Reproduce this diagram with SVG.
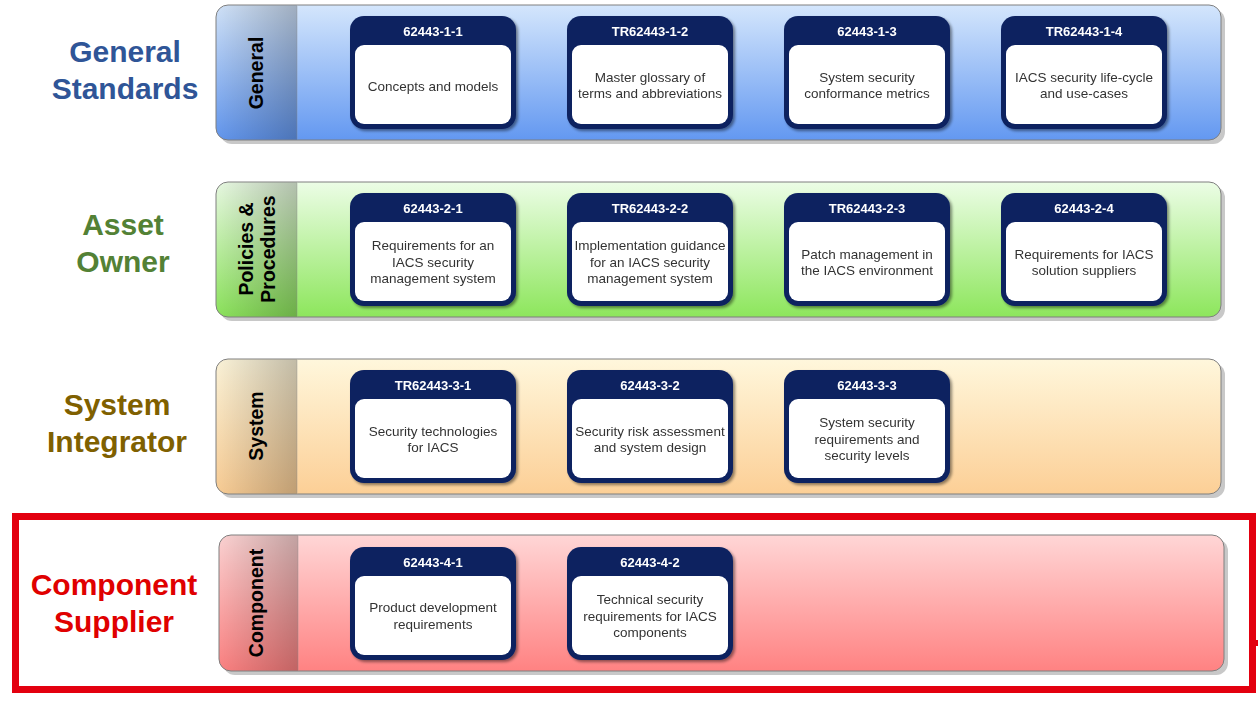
<svg xmlns="http://www.w3.org/2000/svg" width="1258" height="702" viewBox="0 0 1258 702">
<defs>
<linearGradient id="gBlue" x1="0" y1="0" x2="0" y2="1"><stop offset="0" stop-color="#d4e6fc"/><stop offset="1" stop-color="#6398f1"/></linearGradient>
<linearGradient id="gGreen" x1="0" y1="0" x2="0" y2="1"><stop offset="0" stop-color="#ecfde6"/><stop offset="1" stop-color="#8de65c"/></linearGradient>
<linearGradient id="gYellow" x1="0" y1="0" x2="0" y2="1"><stop offset="0" stop-color="#fff7dc"/><stop offset="1" stop-color="#fccf96"/></linearGradient>
<linearGradient id="gRed" x1="0" y1="0" x2="0" y2="1"><stop offset="0" stop-color="#ffd6d6"/><stop offset="1" stop-color="#ff8282"/></linearGradient>
<linearGradient id="gStrip" x1="0" y1="0" x2="1" y2="0"><stop offset="0" stop-color="#000" stop-opacity="0.02"/><stop offset="1" stop-color="#000" stop-opacity="0.24"/></linearGradient>
<filter id="cardSh" x="-10%" y="-10%" width="125%" height="125%"><feGaussianBlur in="SourceAlpha" stdDeviation="1.5"/><feOffset dx="2" dy="2"/><feComponentTransfer><feFuncA type="linear" slope="0.45"/></feComponentTransfer><feMerge><feMergeNode/><feMergeNode in="SourceGraphic"/></feMerge></filter>
</defs>
<style>
.side{font-family:"Liberation Sans",Arial,sans-serif;font-weight:bold;font-size:30px;text-anchor:middle}
.band{stroke:#7f7f7f;stroke-width:1}
.shadow{fill:#c8c8c8}
.strip{fill:url(#gStrip)}
.divider{stroke:#8a8a8a;stroke-width:0.8;opacity:0.5}
.slab{font-family:"Liberation Sans",Arial,sans-serif;font-weight:bold;font-size:19.5px;fill:#000;text-anchor:middle}
.cardo{fill:#0b2160}
.cardi{fill:#ffffff}
.ct{font-family:"Liberation Sans",Arial,sans-serif;font-weight:bold;font-size:13px;fill:#ffffff;text-anchor:middle}
.cb{font-family:"Liberation Sans",Arial,sans-serif;font-size:13.5px;fill:#333333;text-anchor:middle}
</style>

<!-- Left role labels -->
<g id="label-general"><text class="side" fill="#2f5597" x="125" y="62">General</text><text class="side" fill="#2f5597" x="125" y="99">Standards</text></g>
<g id="label-asset"><text class="side" fill="#538135" x="123" y="235">Asset</text><text class="side" fill="#538135" x="123" y="272">Owner</text></g>
<g id="label-system"><text class="side" fill="#7f6000" x="117" y="415">System</text><text class="side" fill="#7f6000" x="117" y="452">Integrator</text></g>
<g id="label-component"><text class="side" fill="#e00000" x="114" y="595">Component</text><text class="side" fill="#e00000" x="114" y="632">Supplier</text></g>

<!-- Band: General -->
<g id="band-general">
<rect class="shadow" x="220" y="9" width="1005" height="135" rx="12"/>
<rect class="band" x="216" y="5" width="1005" height="135" rx="12" fill="url(#gBlue)"/>
<path class="strip" d="M297,5.5 H228 A11.5,11.5 0 0 0 216.5,17 V128 A11.5,11.5 0 0 0 228,139.5 H297 Z"/>
<line class="divider" x1="297" y1="6" x2="297" y2="139"/>
<text class="slab" transform="translate(263,73) rotate(-90)">General</text>
</g>

<!-- Band: Policies -->
<g id="band-policies">
<rect class="shadow" x="220" y="186" width="1005" height="135" rx="12"/>
<rect class="band" x="216" y="182" width="1005" height="135" rx="12" fill="url(#gGreen)"/>
<path class="strip" d="M297,182.5 H228 A11.5,11.5 0 0 0 216.5,194 V305 A11.5,11.5 0 0 0 228,316.5 H297 Z"/>
<line class="divider" x1="297" y1="183" x2="297" y2="316"/>
<text class="slab" transform="translate(253,249) rotate(-90)">Policies &amp;</text>
<text class="slab" transform="translate(275,249) rotate(-90)">Procedures</text>
</g>

<!-- Band: System -->
<g id="band-system">
<rect class="shadow" x="220" y="363" width="1005" height="135" rx="12"/>
<rect class="band" x="216" y="359" width="1005" height="135" rx="12" fill="url(#gYellow)"/>
<path class="strip" d="M297,359.5 H228 A11.5,11.5 0 0 0 216.5,371 V482 A11.5,11.5 0 0 0 228,493.5 H297 Z"/>
<line class="divider" x1="297" y1="360" x2="297" y2="493"/>
<text class="slab" transform="translate(263,426) rotate(-90)">System</text>
</g>

<!-- Band: Component -->
<g id="band-component">
<rect class="shadow" x="223" y="539" width="1005" height="136" rx="12"/>
<rect class="band" x="219" y="535" width="1005" height="136" rx="12" fill="url(#gRed)"/>
<path class="strip" d="M298,535.5 H231 A11.5,11.5 0 0 0 219.5,547 V659 A11.5,11.5 0 0 0 231,670.5 H298 Z"/>
<line class="divider" x1="298" y1="536" x2="298" y2="670"/>
<text class="slab" transform="translate(263,603) rotate(-90)">Component</text>
</g>

<!-- Red highlight frame -->
<g id="highlight">
<rect x="15.5" y="516.5" width="1237" height="173" fill="none" stroke="#e3000f" stroke-width="7"/>
<line x1="1252" y1="643" x2="1258" y2="643" stroke="#e3000f" stroke-width="6"/>
</g>

<!-- Cards row 1 -->
<g id="card-1-1" filter="url(#cardSh)"><rect class="cardo" x="350" y="16" width="166" height="113" rx="14"/><rect class="cardi" x="355" y="45" width="156" height="79" rx="9"/>
<text class="ct" x="433" y="36">62443-1-1</text><text class="cb" x="433" y="91">Concepts and models</text></g>
<g id="card-1-2" filter="url(#cardSh)"><rect class="cardo" x="567" y="16" width="166" height="113" rx="14"/><rect class="cardi" x="572" y="45" width="156" height="79" rx="9"/>
<text class="ct" x="650" y="36">TR62443-1-2</text><text class="cb" x="650" y="82">Master glossary of</text><text class="cb" x="650" y="98">terms and abbreviations</text></g>
<g id="card-1-3" filter="url(#cardSh)"><rect class="cardo" x="784" y="16" width="166" height="113" rx="14"/><rect class="cardi" x="789" y="45" width="156" height="79" rx="9"/>
<text class="ct" x="867" y="36">62443-1-3</text><text class="cb" x="867" y="82">System security</text><text class="cb" x="867" y="98">conformance metrics</text></g>
<g id="card-1-4" filter="url(#cardSh)"><rect class="cardo" x="1001" y="16" width="166" height="113" rx="14"/><rect class="cardi" x="1006" y="45" width="156" height="79" rx="9"/>
<text class="ct" x="1084" y="36">TR62443-1-4</text><text class="cb" x="1084" y="82">IACS security life-cycle</text><text class="cb" x="1084" y="98">and use-cases</text></g>

<!-- Cards row 2 -->
<g id="card-2-1" filter="url(#cardSh)"><rect class="cardo" x="350" y="193" width="166" height="113" rx="14"/><rect class="cardi" x="355" y="222" width="156" height="79" rx="9"/>
<text class="ct" x="433" y="213">62443-2-1</text><text class="cb" x="433" y="250">Requirements for an</text><text class="cb" x="433" y="267">IACS security</text><text class="cb" x="433" y="283">management system</text></g>
<g id="card-2-2" filter="url(#cardSh)"><rect class="cardo" x="567" y="193" width="166" height="113" rx="14"/><rect class="cardi" x="572" y="222" width="156" height="79" rx="9"/>
<text class="ct" x="650" y="213">TR62443-2-2</text><text class="cb" x="650" y="250">Implementation guidance</text><text class="cb" x="650" y="267">for an IACS security</text><text class="cb" x="650" y="283">management system</text></g>
<g id="card-2-3" filter="url(#cardSh)"><rect class="cardo" x="784" y="193" width="166" height="113" rx="14"/><rect class="cardi" x="789" y="222" width="156" height="79" rx="9"/>
<text class="ct" x="867" y="213">TR62443-2-3</text><text class="cb" x="867" y="259">Patch management in</text><text class="cb" x="867" y="275">the IACS environment</text></g>
<g id="card-2-4" filter="url(#cardSh)"><rect class="cardo" x="1001" y="193" width="166" height="113" rx="14"/><rect class="cardi" x="1006" y="222" width="156" height="79" rx="9"/>
<text class="ct" x="1084" y="213">62443-2-4</text><text class="cb" x="1084" y="259">Requirements for IACS</text><text class="cb" x="1084" y="275">solution suppliers</text></g>

<!-- Cards row 3 -->
<g id="card-3-1" filter="url(#cardSh)"><rect class="cardo" x="350" y="370" width="166" height="113" rx="14"/><rect class="cardi" x="355" y="399" width="156" height="79" rx="9"/>
<text class="ct" x="433" y="390">TR62443-3-1</text><text class="cb" x="433" y="436">Security technologies</text><text class="cb" x="433" y="452">for IACS</text></g>
<g id="card-3-2" filter="url(#cardSh)"><rect class="cardo" x="567" y="370" width="166" height="113" rx="14"/><rect class="cardi" x="572" y="399" width="156" height="79" rx="9"/>
<text class="ct" x="650" y="390">62443-3-2</text><text class="cb" x="650" y="436">Security risk assessment</text><text class="cb" x="650" y="452">and system design</text></g>
<g id="card-3-3" filter="url(#cardSh)"><rect class="cardo" x="784" y="370" width="166" height="113" rx="14"/><rect class="cardi" x="789" y="399" width="156" height="79" rx="9"/>
<text class="ct" x="867" y="390">62443-3-3</text><text class="cb" x="867" y="427">System security</text><text class="cb" x="867" y="444">requirements and</text><text class="cb" x="867" y="460">security levels</text></g>

<!-- Cards row 4 -->
<g id="card-4-1" filter="url(#cardSh)"><rect class="cardo" x="350" y="547" width="166" height="113" rx="14"/><rect class="cardi" x="355" y="576" width="156" height="79" rx="9"/>
<text class="ct" x="433" y="567">62443-4-1</text><text class="cb" x="433" y="612">Product development</text><text class="cb" x="433" y="629">requirements</text></g>
<g id="card-4-2" filter="url(#cardSh)"><rect class="cardo" x="567" y="547" width="166" height="113" rx="14"/><rect class="cardi" x="572" y="576" width="156" height="79" rx="9"/>
<text class="ct" x="650" y="567">62443-4-2</text><text class="cb" x="650" y="604">Technical security</text><text class="cb" x="650" y="621">requirements for IACS</text><text class="cb" x="650" y="637">components</text></g>
</svg>
